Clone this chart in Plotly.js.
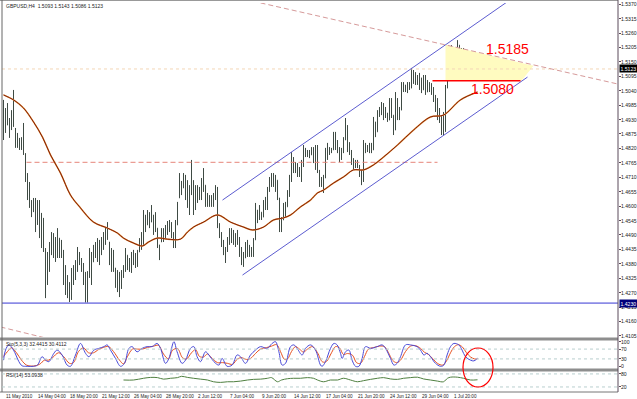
<!DOCTYPE html>
<html><head><meta charset="utf-8">
<script src="https://cdn.plot.ly/plotly-3.0.1.min.js"></script>
<style>html,body{margin:0;padding:0;background:#fff}#chart{width:637px;height:399px}</style>
</head><body><div id="chart"></div>
<script>
// ---------- DATA ----------
const chartTitle = 'GBPUSD,H4  1.5093 1.5143 1.5086 1.5123';
const dateLabels = ['11 May 2010','14 May 04:00','18 May 20:00','21 May 12:00','26 May 04:00','28 May 20:00','2 Jun 12:00','7 Jun 04:00','9 Jun 20:00','14 Jun 12:00','17 Jun 04:00','21 Jun 20:00','24 Jun 12:00','29 Jun 04:00','1 Jul 20:00'];
const dateLabelBars = [0,16,32,48,64,80,96,112,128,144,160,176,192,208,224];
const priceTicks = [1.4105,1.4160,1.4215,1.4270,1.4325,1.4380,1.4435,1.4490,1.4545,1.4600,1.4655,1.4710,1.4765,1.4820,1.4875,1.4930,1.4985,1.5040,1.5095,1.5150,1.5205,1.5260,1.5315,1.5370];
const stochTicks = [0,30,70,100];
const rsiTicks = [20,80];

const barOpen = [1.4890,1.4966,1.4909,1.4928,1.4898,1.4947,1.4890,1.4852,1.4833,1.4852,
1.4822,1.4795,1.4707,1.4642,1.4616,1.4585,1.4604,1.4539,1.4604,1.4509,
1.4471,1.4433,1.4375,1.4394,1.4433,1.4471,1.4433,1.4452,1.4478,1.4433,
1.4413,1.4337,1.4299,1.4280,1.4299,1.4349,1.4364,1.4387,1.4421,1.4394,
1.4364,1.4318,1.4299,1.4337,1.4413,1.4387,1.4433,1.4452,1.4413,1.4440,
1.4471,1.4478,1.4501,1.4463,1.4402,1.4375,1.4364,1.4310,1.4326,1.4288,
1.4337,1.4356,1.4413,1.4375,1.4387,1.4402,1.4413,1.4387,1.4425,1.4463,
1.4490,1.4566,1.4528,1.4566,1.4539,1.4566,1.4516,1.4516,1.4452,1.4463,
1.4501,1.4478,1.4509,1.4528,1.4516,1.4490,1.4471,1.4528,1.4631,1.4688,
1.4669,1.4699,1.4642,1.4623,1.4661,1.4692,1.4593,1.4661,1.4631,1.4661,
1.4692,1.4680,1.4623,1.4631,1.4608,1.4631,1.4642,1.4669,1.4528,1.4490,
1.4463,1.4425,1.4433,1.4471,1.4501,1.4478,1.4490,1.4463,1.4478,1.4425,
1.4394,1.4402,1.4440,1.4425,1.4433,1.4413,1.4471,1.4585,1.4555,1.4577,
1.4558,1.4604,1.4623,1.4661,1.4699,1.4707,1.4680,1.4699,1.4631,1.4528,
1.4547,1.4593,1.4597,1.4642,1.4699,1.4783,1.4745,1.4757,1.4730,1.4738,
1.4757,1.4814,1.4795,1.4806,1.4795,1.4814,1.4776,1.4814,1.4730,1.4692,
1.4699,1.4707,1.4806,1.4822,1.4814,1.4814,1.4860,1.4833,1.4814,1.4783,
1.4814,1.4852,1.4898,1.4833,1.4806,1.4776,1.4757,1.4768,1.4753,1.4730,
1.4699,1.4833,1.4814,1.4822,1.4833,1.4814,1.4921,1.4883,1.4947,1.4966,
1.4986,1.4947,1.4955,1.4928,1.4997,1.4947,1.4890,1.5005,1.4947,1.4966,
1.5050,1.5062,1.5043,1.5066,1.5050,1.5111,1.5081,1.5096,1.5073,1.5089,
1.5043,1.5089,1.5035,1.5066,1.5043,1.5050,1.5005,1.4966,1.4947,1.4928,
1.4898,1.4936,1.5050,1.5150,1.5176,1.5203,1.5176,1.5188,1.5214,1.5176,
1.5165,1.5188,1.5138,1.5127,1.5100,1.5127,1.5092,1.5093];
const barHigh = [1.5005,1.4974,1.4993,1.4936,1.4966,1.5043,1.4898,1.4879,1.4860,1.4863,
1.4917,1.4802,1.4726,1.4692,1.4623,1.4631,1.4631,1.4623,1.4623,1.4574,
1.4555,1.4440,1.4425,1.4463,1.4501,1.4497,1.4482,1.4516,1.4478,1.4471,
1.4433,1.4375,1.4337,1.4310,1.4364,1.4375,1.4394,1.4444,1.4425,1.4402,
1.4383,1.4349,1.4352,1.4440,1.4425,1.4452,1.4463,1.4478,1.4471,1.4482,
1.4501,1.4520,1.4539,1.4463,1.4440,1.4433,1.4364,1.4356,1.4349,1.4356,
1.4375,1.4440,1.4413,1.4402,1.4425,1.4433,1.4421,1.4433,1.4478,1.4501,
1.4585,1.4566,1.4585,1.4577,1.4604,1.4566,1.4577,1.4516,1.4452,1.4516,
1.4516,1.4528,1.4543,1.4547,1.4539,1.4501,1.4547,1.4616,1.4726,1.4696,
1.4726,1.4719,1.4699,1.4680,1.4776,1.4699,1.4680,1.4680,1.4673,1.4707,
1.4745,1.4680,1.4650,1.4642,1.4642,1.4650,1.4680,1.4673,1.4535,1.4501,
1.4471,1.4444,1.4482,1.4516,1.4516,1.4509,1.4497,1.4509,1.4482,1.4444,
1.4425,1.4463,1.4471,1.4452,1.4444,1.4478,1.4612,1.4585,1.4604,1.4577,
1.4623,1.4635,1.4673,1.4711,1.4726,1.4726,1.4719,1.4699,1.4631,1.4558,
1.4612,1.4616,1.4661,1.4719,1.4806,1.4787,1.4768,1.4764,1.4749,1.4776,
1.4833,1.4822,1.4814,1.4814,1.4825,1.4825,1.4833,1.4833,1.4738,1.4711,
1.4719,1.4822,1.4841,1.4825,1.4822,1.4883,1.4883,1.4852,1.4825,1.4822,
1.4863,1.4936,1.4909,1.4844,1.4814,1.4783,1.4776,1.4776,1.4757,1.4738,
1.4852,1.4841,1.4833,1.4841,1.4841,1.4940,1.4921,1.4966,1.4978,1.4997,
1.4993,1.4978,1.4955,1.5012,1.5012,1.4947,1.5035,1.5012,1.4978,1.5073,
1.5073,1.5062,1.5073,1.5073,1.5127,1.5119,1.5111,1.5100,1.5108,1.5089,
1.5100,1.5100,1.5081,1.5073,1.5069,1.5054,1.5024,1.5012,1.4974,1.4947,
1.4959,1.5062,1.5165,1.5188,1.5214,1.5207,1.5203,1.5233,1.5214,1.5203,
1.5203,1.5188,1.5165,1.5130,1.5146,1.5134,1.5138,1.5143];
const barLow = [1.4852,1.4879,1.4909,1.4860,1.4890,1.4902,1.4822,1.4822,1.4814,1.4814,
1.4795,1.4692,1.4623,1.4593,1.4558,1.4577,1.4501,1.4528,1.4478,1.4440,
1.4425,1.4249,1.4299,1.4349,1.4413,1.4402,1.4387,1.4402,1.4402,1.4402,
1.4299,1.4261,1.4249,1.4234,1.4242,1.4299,1.4318,1.4349,1.4375,1.4349,
1.4299,1.4230,1.4230,1.4326,1.4299,1.4387,1.4402,1.4387,1.4375,1.4413,
1.4433,1.4452,1.4471,1.4375,1.4349,1.4349,1.4288,1.4272,1.4253,1.4284,
1.4326,1.4349,1.4356,1.4349,1.4345,1.4375,1.4364,1.4368,1.4425,1.4433,
1.4452,1.4501,1.4528,1.4516,1.4539,1.4490,1.4501,1.4440,1.4394,1.4463,
1.4463,1.4478,1.4490,1.4501,1.4478,1.4440,1.4440,1.4528,1.4631,1.4642,
1.4669,1.4623,1.4593,1.4566,1.4642,1.4566,1.4585,1.4612,1.4623,1.4623,
1.4654,1.4597,1.4597,1.4597,1.4597,1.4597,1.4623,1.4516,1.4478,1.4444,
1.4413,1.4383,1.4425,1.4452,1.4459,1.4452,1.4444,1.4452,1.4406,1.4375,
1.4368,1.4402,1.4406,1.4406,1.4406,1.4406,1.4471,1.4535,1.4547,1.4547,
1.4558,1.4585,1.4585,1.4654,1.4673,1.4673,1.4654,1.4623,1.4501,1.4501,
1.4547,1.4558,1.4597,1.4635,1.4692,1.4726,1.4726,1.4711,1.4711,1.4692,
1.4749,1.4787,1.4787,1.4783,1.4795,1.4764,1.4738,1.4726,1.4673,1.4673,
1.4650,1.4707,1.4776,1.4795,1.4802,1.4814,1.4814,1.4802,1.4768,1.4776,
1.4802,1.4852,1.4806,1.4795,1.4757,1.4738,1.4745,1.4745,1.4711,1.4680,
1.4692,1.4802,1.4806,1.4802,1.4802,1.4814,1.4863,1.4883,1.4940,1.4947,
1.4928,1.4936,1.4921,1.4928,1.4936,1.4871,1.4890,1.4928,1.4928,1.4966,
1.5035,1.5035,1.5031,1.5043,1.5050,1.5066,1.5062,1.5062,1.5043,1.5031,
1.5043,1.5024,1.5035,1.5035,1.5024,1.4997,1.4959,1.4928,1.4917,1.4871,
1.4871,1.4883,1.5050,1.5150,1.5165,1.5157,1.5157,1.5176,1.5165,1.5150,
1.5150,1.5127,1.5127,1.5089,1.5092,1.5081,1.5081,1.5086];
const barClose = [1.4966,1.4909,1.4986,1.4871,1.4947,1.4909,1.4852,1.4833,1.4852,1.4822,
1.4802,1.4707,1.4642,1.4623,1.4585,1.4604,1.4528,1.4604,1.4509,1.4471,
1.4452,1.4375,1.4402,1.4433,1.4471,1.4433,1.4452,1.4490,1.4433,1.4413,
1.4337,1.4299,1.4280,1.4299,1.4349,1.4364,1.4387,1.4425,1.4394,1.4364,
1.4318,1.4299,1.4337,1.4413,1.4356,1.4433,1.4452,1.4413,1.4440,1.4471,
1.4478,1.4501,1.4490,1.4402,1.4375,1.4364,1.4310,1.4326,1.4280,1.4337,
1.4356,1.4413,1.4375,1.4387,1.4402,1.4413,1.4387,1.4425,1.4463,1.4490,
1.4566,1.4528,1.4566,1.4539,1.4577,1.4516,1.4547,1.4452,1.4425,1.4501,
1.4478,1.4509,1.4528,1.4516,1.4490,1.4471,1.4528,1.4604,1.4707,1.4661,
1.4707,1.4642,1.4623,1.4661,1.4745,1.4593,1.4661,1.4623,1.4661,1.4692,
1.4719,1.4623,1.4631,1.4608,1.4631,1.4642,1.4669,1.4528,1.4490,1.4463,
1.4425,1.4433,1.4471,1.4501,1.4478,1.4490,1.4463,1.4490,1.4425,1.4394,
1.4387,1.4440,1.4425,1.4433,1.4413,1.4471,1.4585,1.4555,1.4585,1.4555,
1.4604,1.4623,1.4661,1.4699,1.4707,1.4680,1.4699,1.4631,1.4528,1.4539,
1.4593,1.4577,1.4642,1.4699,1.4783,1.4745,1.4757,1.4730,1.4738,1.4757,
1.4814,1.4795,1.4806,1.4795,1.4814,1.4776,1.4814,1.4738,1.4692,1.4699,
1.4707,1.4806,1.4822,1.4806,1.4810,1.4860,1.4833,1.4814,1.4783,1.4814,
1.4852,1.4909,1.4833,1.4806,1.4776,1.4757,1.4768,1.4753,1.4730,1.4699,
1.4833,1.4814,1.4822,1.4833,1.4814,1.4921,1.4883,1.4947,1.4966,1.4986,
1.4947,1.4966,1.4928,1.4997,1.4947,1.4890,1.5012,1.4947,1.4966,1.5050,
1.5062,1.5043,1.5066,1.5050,1.5111,1.5081,1.5096,1.5073,1.5089,1.5043,
1.5089,1.5035,1.5066,1.5043,1.5050,1.5005,1.4966,1.4947,1.4928,1.4898,
1.4936,1.5050,1.5150,1.5176,1.5203,1.5176,1.5188,1.5214,1.5176,1.5165,
1.5188,1.5138,1.5150,1.5100,1.5127,1.5092,1.5096,1.5123];

// moving average (read at sample bars)
const maBars = [0,5,10,15,19.5,23.5,28.5,33.5,38.5,45,52,57,60,65,69.5,72.5,77,82,88.5,92,95,100,107,113.5,120,124.5,130,135,140,143.5,148.5,153.5,157,160,165,170,175,180,185,190,197,205,213.5,220,228.5,237];
const maValues = [1.5024,1.5005,1.4974,1.4921,1.4863,1.4795,1.4726,1.4642,1.4593,1.4539,1.4516,1.4497,1.4478,1.4459,1.4448,1.4463,1.4478,1.4474,1.4474,1.4501,1.4520,1.4539,1.4566,1.4539,1.4520,1.4509,1.4520,1.4547,1.4555,1.4566,1.4597,1.4623,1.4650,1.4661,1.4688,1.4711,1.4738,1.4738,1.4757,1.4787,1.4833,1.4890,1.4940,1.4947,1.5005,1.5035];

// stochastic (5,3,3)
const stochMainBars = [0,1,2.7,5,7.7,9.3,11.8,15,17,19.3,21,22.7,25.2,26.8,29.3,31.8,33.5,36,38.5,41,42.7,45.2,47.7,50.2,51.8,53.5,56,58.5,60.5,62.7,64.3,66.8,69.3,71.8,74.3,76.8,78.5,81,82.7,85.2,86.8,89.3,91,93.5,95.2,96.8,98.5,101,102.7,105.2,107.7,109.3,111.8,114.3,116.8,118.5,121,123.5,126,128.5,131.8,134.3,136,137.7,139.3,141,143.5,145.2,146.8,149.3,151,153.5,156,158.5,159.3,161,163.5,165.2,166.8,168.5,169.3,171,172.7,174.3,176,177.7,179.3,181,183.5,186.8,189.3,191,193.5,195.2,196.8,198.5,201,203.5,206.8,208.5,210.2,211.8,213.5,216,218.5,220.2,221.8,223.5,225.2,227.7,229.3,231,233.5,235.2,237];
const stochMain = [25,66,87,66,19,2,0,0,5,39,25,19,53,66,46,5,0,46,93,53,39,66,73,80,87,66,32,0,12,73,80,59,73,80,80,93,73,12,32,100,59,12,25,73,80,39,19,59,46,19,5,32,0,5,46,39,12,46,66,80,73,93,100,59,5,12,80,87,73,46,73,87,66,5,0,19,73,93,87,53,32,59,66,25,0,0,32,80,73,80,87,73,32,5,12,39,87,87,80,66,46,53,39,12,0,5,46,80,93,87,66,39,25,22,32.4415];
const stochSignalBars = [0,2,4,6.5,9,11.5,15,18,20.5,22.5,24.5,27.5,30,33,35,37.5,40,42.5,45,47.5,50,52.5,55,58,60,62,64.5,67,69.5,72,75,77.5,80,82.5,84.5,87,89.5,91.5,94,96,98,100,102,104,107,109.5,112,114.5,117,119,121.5,123.5,126,128.5,131.5,134,136.5,138.5,140.5,142,144,146,148,150,152,154.5,157,159.5,161.5,164,166,168,170,172,174.5,176.5,178.5,180.5,182.5,185,188,190.5,192.5,194.5,196.5,198.5,201,203.5,206,208.5,210.5,212.5,214.5,217,219.5,221.5,223.5,225.5,227.5,229.5,231.5,233.5,235.5,237];
const stochSignal = [40,60,75,55,25,5,1,8,25,25,35,55,40,12,15,60,75,55,55,68,77,80,60,25,10,40,70,70,70,77,82,85,50,30,65,72,35,30,55,68,40,38,50,35,15,15,12,8,30,35,28,32,52,70,76,82,88,60,28,30,60,80,70,58,70,80,55,18,20,55,80,75,48,52,45,15,12,40,70,76,82,80,55,25,15,25,60,82,84,73,57,48,32,12,5,22,55,80,88,78,55,38,30,30.4112];

// RSI(14)
const rsiBars = [60,65,70,73.5,77,80,83.5,87,89,92,95,98.5,102,105,108.5,112,115,118.5,122,125,128.5,132,134,137,139,142,145,148.5,152,155,157,160,163.5,167,170,173.5,177,180,183.5,187,190,193.5,197,200,203.5,207,210,213.5,217,220,222,223.5,227,230,233.5,237];
const rsiValues = [52,52,60,64,63,56,60,63,69,64,60,56,52,44,41,44,44,47,52,55,56,60,63,44,52,58,60,60,63,60,52,44,52,52,60,52,44,49,55,60,63,57,55,60,63,65,57,52,47,44,60,65,65,60,52,53.0938];

// drawn objects (bar index, price)
const currentPrice = 1.5123;
const supportLevel = 1.4230;
const oldResistance = 1.4767, oldResistanceBars = [11.5, 217];
const breakoutLevel = 1.5078, breakoutBars = [214.5, 258.5];
const resistLineBars = [128.5, 307.5], resistLinePrices = [1.5375, 1.5065];
const resistLine2Bars = [-1.5, 21], resistLine2Prices = [1.4139, 1.4097];
const channelUpperBars = [109.5, 256], channelUpperPrices = [1.4623, 1.5401];
const channelLowerBars = [119.5, 262], channelLowerPrices = [1.4337, 1.5092];
const triangleBars = [221, 221, 259, 265, 221], trianglePrices = [1.5215, 1.5078, 1.5078, 1.5135, 1.5215];
const targetLabels = ['1.5185', '1.5080'];
const targetLabelBars = [252, 244.5], targetLabelPrices = [1.5199, 1.5047];

// ---------- LAYOUT HELPERS ----------
const W = 637, H = 399;
const px = v => v / W, py = v => 1 - v / H;
const xRange = [-0.75, 307.25];
const barIndex = barClose.map((_, i) => i);
const FONT = 'Liberation Sans, Arial, sans-serif';

const traces = [];
traces.push({type:'scatter', mode:'lines', x:triangleBars, y:trianglePrices, fill:'toself', fillcolor:'#fffbc0', line:{width:0}, hoverinfo:'skip'});
traces.push({type:'scatter', mode:'lines', x:xRange, y:[currentPrice,currentPrice], line:{color:'#f3d6b6', width:1, dash:'dot'}, hoverinfo:'skip'});
traces.push({type:'scatter', mode:'lines', x:xRange, y:[supportLevel,supportLevel], line:{color:'#8c8ce6', width:1.6}, hoverinfo:'skip'});
traces.push({type:'scatter', mode:'lines', x:oldResistanceBars, y:[oldResistance,oldResistance], line:{color:'#e6857a', width:1, dash:'5px,3px'}, hoverinfo:'skip'});
traces.push({type:'scatter', mode:'lines', x:resistLineBars, y:resistLinePrices, line:{color:'#d69a9a', width:1, dash:'5px,3px'}, hoverinfo:'skip'});
traces.push({type:'scatter', mode:'lines', x:resistLine2Bars, y:resistLine2Prices, line:{color:'#d69a9a', width:1, dash:'5px,3px'}, hoverinfo:'skip'});
traces.push({type:'ohlc', x:barIndex, open:barOpen, high:barHigh, low:barLow, close:barClose, tickwidth:0.25,
  increasing:{line:{color:'#3f4b44', width:1}}, decreasing:{line:{color:'#3f4b44', width:1}}, hoverinfo:'skip'});
traces.push({type:'scatter', mode:'lines', x:maBars, y:maValues, line:{color:'#e0923e', width:1.5, shape:'spline'}, hoverinfo:'skip'});
traces.push({type:'scatter', mode:'lines', x:maBars, y:maValues, line:{color:'#7a1200', width:0.9, shape:'spline'}, hoverinfo:'skip'});
traces.push({type:'scatter', mode:'lines', x:channelUpperBars, y:channelUpperPrices, line:{color:'#5c5cd0', width:1}, hoverinfo:'skip'});
traces.push({type:'scatter', mode:'lines', x:channelLowerBars, y:channelLowerPrices, line:{color:'#5c5cd0', width:1}, hoverinfo:'skip'});
traces.push({type:'scatter', mode:'lines', x:breakoutBars, y:[breakoutLevel,breakoutLevel], line:{color:'#ff0000', width:1.6}, hoverinfo:'skip'});
traces.push({type:'scatter', mode:'lines', x:stochSignalBars, y:stochSignal, yaxis:'y2', line:{color:'#e8501e', width:1, shape:'spline'}, hoverinfo:'skip'});
traces.push({type:'scatter', mode:'lines', x:stochMainBars, y:stochMain, yaxis:'y2', line:{color:'#4a4ad8', width:1, shape:'spline'}, hoverinfo:'skip'});
traces.push({type:'scatter', mode:'lines', x:rsiBars, y:rsiValues, yaxis:'y3', line:{color:'#4f8040', width:1, shape:'spline'}, hoverinfo:'skip'});

const xDom = [px(2), px(618)];
const shapes = [];
shapes.push({type:'rect', xref:'paper', yref:'paper', x0:px(0), x1:px(618), y0:py(340.5), y1:py(337.5), fillcolor:'#8e8e8e', line:{width:0}});
shapes.push({type:'rect', xref:'paper', yref:'paper', x0:px(0), x1:px(618), y0:py(371.5), y1:py(368.5), fillcolor:'#8e8e8e', line:{width:0}});
shapes.push({type:'line', xref:'paper', yref:'paper', x0:px(0), x1:px(618), y0:py(392), y1:py(392), line:{color:'#777', width:1}});
shapes.push({type:'line', xref:'paper', yref:'paper', x0:px(0), x1:px(618), y0:py(0.5), y1:py(0.5), line:{color:'#999', width:1}});
shapes.push({type:'line', xref:'paper', yref:'paper', x0:px(2), x1:px(2), y0:py(0), y1:py(392), line:{color:'#666', width:1}});
shapes.push({type:'line', xref:'paper', yref:'paper', x0:px(618), x1:px(618), y0:py(0), y1:py(392), line:{color:'#5a4a5a', width:1}});
[30,70].forEach(v => shapes.push({type:'line', xref:'paper', yref:'y2', x0:xDom[0], x1:xDom[1], y0:v, y1:v, line:{color:'#b9cfcf', width:1, dash:'dot'}}));
[20,80].forEach(v => shapes.push({type:'line', xref:'paper', yref:'y3', x0:xDom[0], x1:xDom[1], y0:v, y1:v, line:{color:'#b9cfcf', width:1, dash:'dot'}}));
shapes.push({type:'circle', xref:'paper', yref:'paper', x0:px(463), x1:px(493), y0:py(387), y1:py(348), line:{color:'#ff0000', width:1.2}});

const annotations = [];
const small = {family:FONT, size:5, color:'#222'};
annotations.push({xref:'paper', yref:'paper', x:px(4), y:py(6), xanchor:'left', yanchor:'middle', text:chartTitle, showarrow:false, font:small});
annotations.push({xref:'paper', yref:'paper', x:px(4), y:py(343.5), xanchor:'left', yanchor:'middle', text:'Sto(5,3,3) ' + stochMain[stochMain.length-1].toFixed(4) + ' ' + stochSignal[stochSignal.length-1].toFixed(4), showarrow:false, font:small});
annotations.push({xref:'paper', yref:'paper', x:px(4), y:py(375), xanchor:'left', yanchor:'middle', text:'RSI(14) ' + rsiValues[rsiValues.length-1].toFixed(4), showarrow:false, font:small});
dateLabels.forEach((t, k) => annotations.push({xref:'x', yref:'paper', x:dateLabelBars[k], y:py(396), xanchor:'left', yanchor:'middle', text:t, showarrow:false, font:{family:FONT, size:4.6, color:'#222'}}));
const axisLab = {family:FONT, size:5.1, color:'#222'};
priceTicks.forEach(v => annotations.push({xref:'paper', yref:'y', x:px(620), y:v, xanchor:'left', yanchor:'middle', text:v.toFixed(4), showarrow:false, font:axisLab, borderpad:0}));
stochTicks.forEach(v => annotations.push({xref:'paper', yref:'y2', x:px(620), y:v, xanchor:'left', yanchor:'middle', text:String(v), showarrow:false, font:axisLab, borderpad:0}));
rsiTicks.forEach(v => annotations.push({xref:'paper', yref:'y3', x:px(620), y:v, xanchor:'left', yanchor:'middle', text:String(v), showarrow:false, font:axisLab, borderpad:0}));
targetLabels.forEach((t, k) => annotations.push({xref:'x', yref:'y', x:targetLabelBars[k], y:targetLabelPrices[k], xanchor:'center', yanchor:'middle', text:t, showarrow:false, font:{family:FONT, size:14, color:'#ff0000'}}));
annotations.push({xref:'paper', yref:'y', x:px(619), y:currentPrice, xanchor:'left', yanchor:'middle', text:currentPrice.toFixed(4), showarrow:false, bgcolor:'#000000', borderpad:0.5, font:{family:FONT, size:5.1, color:'#ffffff'}});
annotations.push({xref:'paper', yref:'y', x:px(619), y:supportLevel, xanchor:'left', yanchor:'middle', text:supportLevel.toFixed(4), showarrow:false, bgcolor:'#00007a', borderpad:0.5, font:{family:FONT, size:5.1, color:'#ffffff'}});

const axisCommon = {showgrid:false, zeroline:false, side:'right', anchor:'x', showline:false, ticks:'outside', ticklen:2, tickcolor:'#5a4a5a', showticklabels:false, fixedrange:true};
const layout = {
  width:W, height:H, margin:{l:0, r:0, t:0, b:0}, showlegend:false,
  paper_bgcolor:'#ffffff', plot_bgcolor:'#ffffff',
  xaxis:{domain:xDom, range:xRange, showgrid:false, zeroline:false, showticklabels:false, ticks:'', showline:false, anchor:'y3', rangeslider:{visible:false}, fixedrange:true},
  yaxis:Object.assign({}, axisCommon, {domain:[py(337), py(3)], range:[1.41007, 1.53746], tickvals:priceTicks}),
  yaxis2:Object.assign({}, axisCommon, {domain:[py(369), py(340)], range:[-11, 107], tickvals:stochTicks}),
  yaxis3:Object.assign({}, axisCommon, {domain:[py(392), py(372)], range:[-3.2, 88.9], tickvals:rsiTicks}),
  shapes:shapes, annotations:annotations
};
Plotly.newPlot('chart', traces, layout, {staticPlot:true, displayModeBar:false});
</script></body></html>
